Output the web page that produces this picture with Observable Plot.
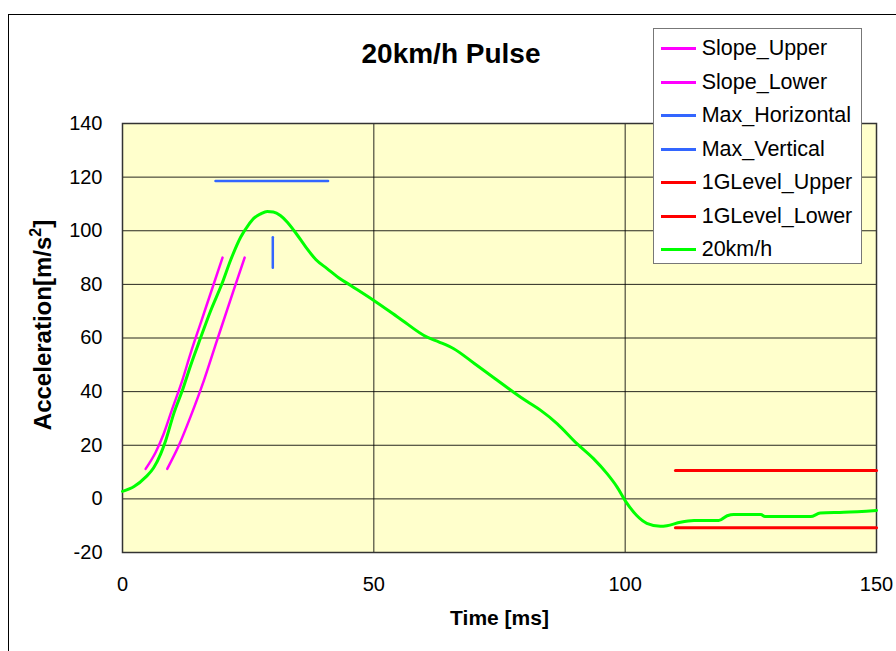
<!DOCTYPE html>
<html>
<head>
<meta charset="utf-8">
<script src="https://cdn.jsdelivr.net/npm/d3@7"></script>
<script src="https://cdn.jsdelivr.net/npm/@observablehq/plot@0.6"></script>
<style>
  html, body { margin: 0; padding: 0; background: #fff; }
  #wrap { position: relative; width: 896px; height: 651px; overflow: hidden; font-family: "Liberation Sans", Arial, sans-serif; }
  #border { position: absolute; left: 8px; top: 14px; width: 1000px; height: 1000px; border: 1px solid #000; box-sizing: border-box; }
  #chart { position: absolute; left: 0; top: 0; }
  #title { position: absolute; left: 0; width: 902px; top: 38px; line-height: 32px; text-align: center; font-weight: bold; font-size: 28px; color: #000; }
  #legend { position: absolute; left: 653px; top: 28px; width: 209px; height: 236px; background: #fff; border: 1px solid #777; box-sizing: border-box; }
  .li { position: absolute; left: 6.7px; height: 20px; font-size: 21.5px; line-height: 20px; color: #000; white-space: nowrap; }
  .li span.sw { display: inline-block; width: 35px; height: 3px; vertical-align: middle; margin-right: 6px; position: relative; top: -1px; }
</style>
</head>
<body>
<div id="wrap">
  <div id="border"></div>
  <div id="chart"></div>
  <div id="title">20km/h Pulse</div>
  <div id="legend"></div>
</div>
<script>
// ---- data ----
const pulseT = [0, 2.3, 4.6, 6.2, 7.6, 8.6, 10.2, 11.9, 13.5, 15.5, 17.5, 19.8, 21.5, 23.5, 25, 26.1, 27.5, 28.8, 30, 31.4, 32.8, 34.1, 35.5, 36.7, 38.5, 40.7, 43, 45.4, 50, 55, 60.6, 63, 65.9, 70, 74, 77.8, 80.5, 83.2, 86.5, 90.4, 93.7, 96.4, 98.4, 100.2, 102.3, 104.3, 107, 108.3, 111, 113.7, 118.6, 120.3, 121.6, 127, 127.8, 136.9, 138.8, 143.5, 150];
const pulseA = [2.8, 4.6, 8.1, 11.6, 16.8, 21.8, 31.8, 40.4, 49.5, 59.9, 70, 80.3, 89, 97.6, 102, 104.6, 106.3, 107.2, 107, 105.7, 103.2, 100.1, 96.5, 93.3, 89.2, 85.9, 82.5, 79.6, 74, 67.5, 60.3, 58.5, 56, 50.5, 45, 39.8, 36.3, 33.0, 28.0, 20.6, 15.0, 9.4, 4.4, -1.2, -6.2, -9.1, -10.2, -10, -8.7, -8.1, -8.1, -6.3, -5.8, -5.8, -6.6, -6.6, -5.3, -5.0, -4.3];

const slopeUpperT = [4.6, 6.6, 8.2, 9.8, 11.9, 13.5, 15.5, 17.5, 19.9];
const slopeUpperA = [11.2, 17.4, 24.3, 33.0, 44.2, 54.0, 65.3, 76.5, 90.0];
const slopeLowerT = [8.9, 11.2, 13.5, 16.2, 18.8, 22.1, 24.3];
const slopeLowerA = [11.2, 19.9, 30.5, 44.2, 59.1, 77.8, 90.0];

const maxHorizontalT = [18.5, 40.9];
const maxHorizontalA = [118.6, 118.6];
const maxVerticalT = [29.9, 29.9];
const maxVerticalA = [86.2, 97.6];

const gUpperT = [110, 150];
const gUpperA = [10.6, 10.6];
const gLowerT = [110, 150];
const gLowerA = [-10.8, -10.8];

const xTicks = [0, 50, 100, 150];
const yTicks = [-20, 0, 20, 40, 60, 80, 100, 120, 140];

const seriesNames = ["Slope_Upper", "Slope_Lower", "Max_Horizontal", "Max_Vertical", "1GLevel_Upper", "1GLevel_Lower", "20km/h"];
const seriesColors = ["#FF00FF", "#FF00FF", "#3366FF", "#3366FF", "#FF0000", "#FF0000", "#00FF00"];

const toRows = (ts, as, s) => ts.map((t, i) => ({t, a: as[i], s}));

const chart = Plot.plot({
  width: 896,
  height: 651,
  marginLeft: 122,
  marginRight: 20,
  marginTop: 123,
  marginBottom: 99,
  style: { fontFamily: "'Liberation Sans', Arial, sans-serif", fontSize: "20px", background: "transparent", overflow: "visible" },
  x: { domain: [0, 150], ticks: xTicks },
  y: { domain: [-20, 140], ticks: yTicks },
  marks: [
    Plot.frame({ fill: "#FFFFCC", stroke: null }),
    Plot.gridY(yTicks, { stroke: "#000", strokeOpacity: 0.85, strokeWidth: 1 }),
    Plot.gridX(xTicks, { stroke: "#000", strokeOpacity: 0.85, strokeWidth: 1 }),
    Plot.frame({ stroke: "#333", strokeWidth: 1.5 }),
    Plot.axisX(xTicks, { tickSize: 0, tickPadding: 24, fontSize: 20, fill: "#000", label: null, tickFormat: d => String(d) }),
    Plot.axisY(yTicks, { tickSize: 0, tickPadding: 20, fontSize: 20, fill: "#000", label: null, tickFormat: d => String(d) }),
    Plot.text(["Time [ms]"], { frameAnchor: "bottom", dy: 72, fontSize: 21, fontWeight: "bold", fill: "#000" }),
    Plot.text(["Acceleration[m/s2]"], { frameAnchor: "left", textAnchor: "middle", dx: -79, dy: -13, rotate: -90, fontSize: 24, fontWeight: "bold", fill: "#000", className: "ylab" }),
    Plot.line(toRows(slopeUpperT, slopeUpperA, "Slope_Upper"), { x: "t", y: "a", stroke: "#FF00FF", strokeWidth: 2.5, curve: "monotone-x" }),
    Plot.line(toRows(slopeLowerT, slopeLowerA, "Slope_Lower"), { x: "t", y: "a", stroke: "#FF00FF", strokeWidth: 2.5, curve: "monotone-x" }),
    Plot.line(toRows(maxHorizontalT, maxHorizontalA, "Max_Horizontal"), { x: "t", y: "a", stroke: "#3366FF", strokeWidth: 2.5 }),
    Plot.line(toRows(maxVerticalT, maxVerticalA, "Max_Vertical"), { x: "t", y: "a", stroke: "#3366FF", strokeWidth: 2.5 }),
    Plot.line(toRows(gUpperT, gUpperA, "1GLevel_Upper"), { x: "t", y: "a", stroke: "#FF0000", strokeWidth: 3 }),
    Plot.line(toRows(gLowerT, gLowerA, "1GLevel_Lower"), { x: "t", y: "a", stroke: "#FF0000", strokeWidth: 3 }),
    Plot.line(toRows(pulseT, pulseA, "20km/h"), { x: "t", y: "a", stroke: "#00FF00", strokeWidth: 3, curve: "monotone-x" })
  ]
});
document.getElementById("chart").appendChild(chart);

// superscript in the y label
const yl = chart.querySelector(".ylab text");
if (yl) {
  yl.innerHTML = 'Acceleration[m/s<tspan dy="-10" font-size="16">2</tspan><tspan dy="10">]</tspan>';
}

// legend
const leg = document.getElementById("legend");
seriesNames.forEach((n, i) => {
  const d = document.createElement("div");
  d.className = "li";
  d.style.top = (9.3 + i * 33.5) + "px";
  d.innerHTML = `<span class="sw" style="background:${seriesColors[i]}"></span>`;
  d.appendChild(document.createTextNode(n));
  leg.appendChild(d);
});
</script>
</body>
</html>
